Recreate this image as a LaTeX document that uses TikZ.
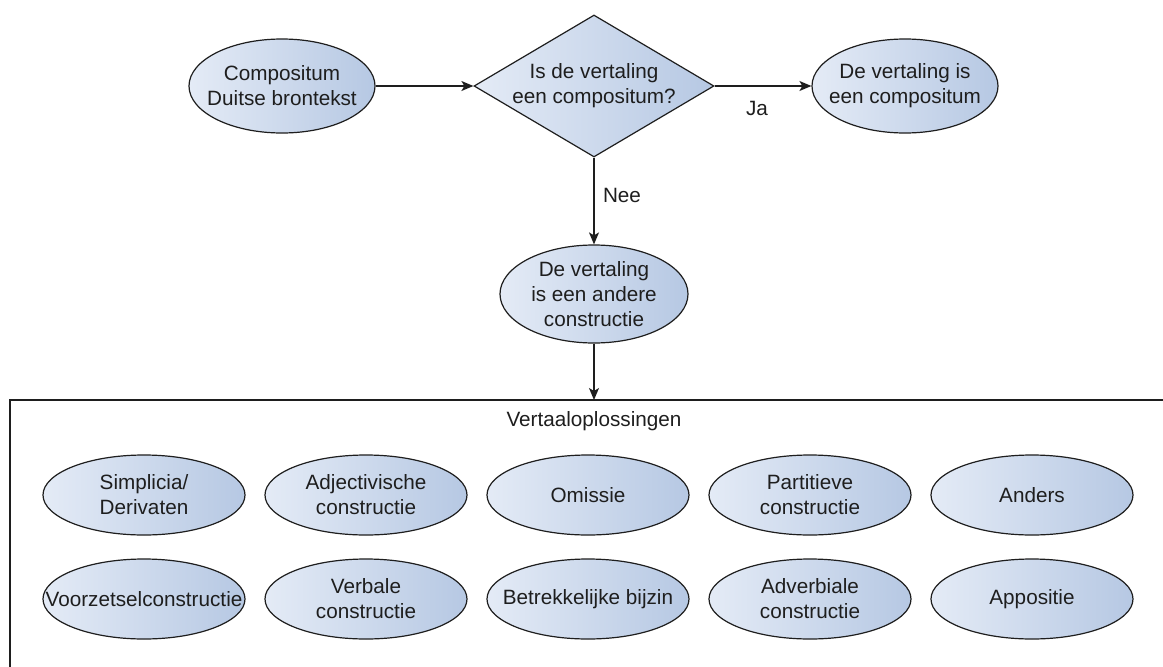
\documentclass[tikz,border=0pt]{standalone}
\usepackage{fontspec}
\setmainfont{Liberation Sans}
\usetikzlibrary{shapes.geometric,arrows.meta}
\definecolor{gl}{RGB}{228,235,246}
\definecolor{gr}{RGB}{182,200,227}
\definecolor{ink}{RGB}{30,30,30}
\begin{document}
\begin{tikzpicture}[x=1pt,y=-1pt,
  shp/.style={draw=ink, line width=1.2pt, left color=gl, right color=gr, inner sep=0pt},
  oval/.style={shp, ellipse},
  topoval/.style={oval, minimum width=186pt, minimum height=94pt},
  rowoval/.style={oval, minimum width=202pt, minimum height=80pt},
  lbl/.style={align=center, text=ink, inner sep=0pt, font=\fontsize{20.7}{25}\selectfont},
  conn/.style={draw=ink, line width=1.3pt, -{Stealth[length=12pt,width=10pt,inset=3pt]}}
]
\fill[white] (0,0) rectangle (1163,667);
\useasboundingbox (0,0) rectangle (1163,667);

% top row
\node[topoval, label={[lbl]center:{Compositum\\Duitse brontekst}}] (src) at (282,86) {};
\node[shp, diamond, minimum width=240pt, minimum height=142pt,
      label={[lbl]center:{Is de vertaling\\een compositum?}}] (dia) at (594,86) {};
\node[topoval, label={[lbl]center:{De vertaling is\\een compositum}}] (ja) at (905,86) {};
\node[oval, minimum width=188pt, minimum height=98pt,
      label={[lbl]center:{De vertaling\\is een andere\\constructie}}] (ander) at (594,294) {};

\draw[conn] (src) -- (dia);
\draw[conn] (dia) -- (ja);
\draw[conn] (dia) -- (ander);
\node[lbl] (jalbl) at (757,108) {Ja};
\node[lbl] (neelbl) at (622,195) {Nee};

% container
\coordinate (boxtl) at (10,400);
\draw[ink, line width=1.2pt] (1163,400) -- (boxtl) -- (10,667);
\draw[conn] (ander) -- (ander |- boxtl);
\node[lbl] (title) at (594,421) {Vertaaloplossingen};

% solutions
\node[rowoval, label={[lbl]center:{Simplicia/\\Derivaten}}] (r1) at (144,495) {};
\node[rowoval, label={[lbl]center:{Adjectivische\\constructie}}] (r2) at (366,495) {};
\node[rowoval, label={[lbl]center:{Omissie}}] (r3) at (588,495) {};
\node[rowoval, label={[lbl]center:{Partitieve\\constructie}}] (r4) at (810,495) {};
\node[rowoval, label={[lbl]center:{Anders}}] (r5) at (1032,495) {};
\node[rowoval, label={[lbl]center:{Voorzetselconstructie}}] (s1) at (144,599) {};
\node[rowoval, label={[lbl]center:{Verbale\\constructie}}] (s2) at (366,599) {};
\node[rowoval, label={[lbl]center:{Betrekkelijke bijzin}}] (s3) at (588,599) {};
\node[rowoval, label={[lbl]center:{Adverbiale\\constructie}}] (s4) at (810,599) {};
\node[rowoval, label={[lbl]center:{Appositie}}] (s5) at (1032,599) {};
\end{tikzpicture}
\end{document}
